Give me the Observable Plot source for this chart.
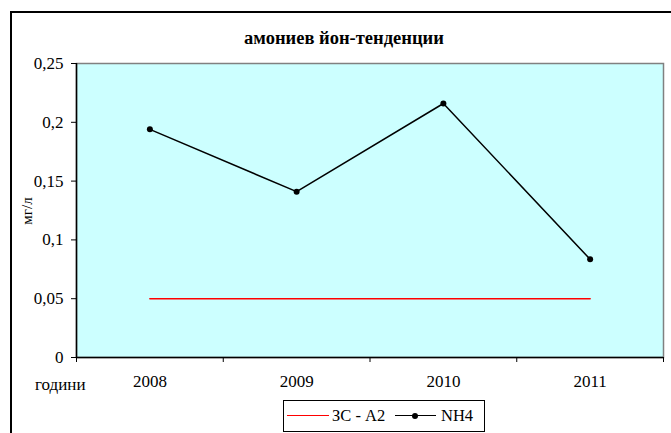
<!DOCTYPE html>
<html><head><meta charset="utf-8">
<script src="https://cdn.jsdelivr.net/npm/d3@7"></script>
<script src="https://cdn.jsdelivr.net/npm/@observablehq/plot@0.6"></script>
<style>
html,body{margin:0;padding:0;background:#fff;}
body{width:671px;height:433px;overflow:hidden;position:relative;font-family:'Liberation Serif';color:#000;}
#border{position:absolute;left:10px;top:11px;width:720px;height:460px;border-left:2px solid #000;border-top:2px solid #000;}
#chart{position:absolute;left:0;top:0;}
#chart svg, #chart svg text{font-family:'Liberation Serif' !important;}
.lbl{position:absolute;white-space:nowrap;line-height:1;font-family:'Liberation Serif';}
#title{left:344px;top:28.5px;transform:translateX(-50%);font-weight:bold;font-size:18.5px;}
#ylab{left:27px;top:211px;font-size:15px;transform:translate(-50%,-50%) rotate(-90deg);}
#xlab{left:35px;top:375.5px;font-size:17px;}
#legend{position:absolute;left:283px;top:400px;width:200px;height:30px;border:1px solid #000;background:#fff;}
.sw{position:absolute;height:0;}
.dot{position:absolute;width:6px;height:6px;border-radius:50%;background:#000;}
.lt{position:absolute;font-size:16.5px;line-height:1;white-space:nowrap;font-family:'Liberation Serif';}
</style>
</head><body>
<div id="border"></div>
<div id="chart"></div>
<div id="title" class="lbl"></div>
<div id="ylab" class="lbl"></div>
<div id="xlab" class="lbl"></div>
<div id="legend"></div>
<script>
const years = [2008, 2009, 2010, 2011];
const nh4 = [0.194, 0.141, 0.216, 0.0835];
const zsA2 = [0.05, 0.05, 0.05, 0.05];
const yTicks = [0, 0.05, 0.1, 0.15, 0.2, 0.25];
const seriesNames = ["ЗС - А2", "NH4"];
const seriesColors = ["#FF0000", "#000000"];
const titleText = "амониев йон-тенденции";
const yLabelText = "мг/л";
const xLabelText = "години";

const rows = years.map((y, i) => ({year: y, nh4: nh4[i], zs: zsA2[i]}));
const bounds = d3.range(years.length + 1).map(i => years[0] - 0.5 + i);

const chart = Plot.plot({
  width: 671, height: 433,
  marginLeft: 76, marginTop: 63, marginRight: 8, marginBottom: 76,
  style: {fontFamily: "'Liberation Serif'", fontSize: "17px", background: "transparent", color: "#000"},
  x: {type: "linear", domain: [bounds[0], bounds[bounds.length - 1]]},
  y: {domain: [yTicks[0], yTicks[yTicks.length - 1]]},
  marks: [
    Plot.frame({fill: "#CCFFFF", stroke: "#808080", strokeWidth: 1.5}),
    Plot.ruleY([yTicks[0]], {stroke: "#000", strokeWidth: 1.5}),
    Plot.ruleX([bounds[0]], {stroke: "#000", strokeWidth: 1.5}),
    Plot.axisY({ticks: yTicks, tickFormat: d => String(d).replace(".", ","), tickSize: 5, tickPadding: 8, label: null, fontSize: 17}),
    Plot.axisX({ticks: bounds, tickFormat: () => "", tickSize: 5, label: null}),
    Plot.axisX({ticks: years, tickFormat: d => String(d), tickSize: 0, tickPadding: 17, label: null, fontSize: 17}),
    Plot.lineY(rows, {x: "year", y: "zs", stroke: seriesColors[0], strokeWidth: 1.6}),
    Plot.lineY(rows, {x: "year", y: "nh4", stroke: seriesColors[1], strokeWidth: 1.5}),
    Plot.dot(rows, {x: "year", y: "nh4", fill: seriesColors[1], r: 3})
  ]
});
document.getElementById("chart").appendChild(chart);

document.getElementById("title").textContent = titleText;
document.getElementById("ylab").textContent = yLabelText;
document.getElementById("xlab").textContent = xLabelText;

const lg = document.getElementById("legend");
const s1 = document.createElement("div"); s1.className = "sw";
s1.style.cssText = "left:3px;top:14px;width:42px;border-top:1.5px solid " + seriesColors[0];
lg.appendChild(s1);
const t1 = document.createElement("div"); t1.className = "lt";
t1.style.cssText = "left:48px;top:6.5px"; t1.textContent = seriesNames[0];
lg.appendChild(t1);
const s2 = document.createElement("div"); s2.className = "sw";
s2.style.cssText = "left:111px;top:14px;width:41px;border-top:1.5px solid " + seriesColors[1];
lg.appendChild(s2);
const d2 = document.createElement("div"); d2.className = "dot";
d2.style.cssText = "left:128px;top:11.5px";
lg.appendChild(d2);
const t2 = document.createElement("div"); t2.className = "lt";
t2.style.cssText = "left:157px;top:6.5px"; t2.textContent = seriesNames[1];
lg.appendChild(t2);
</script>
</body></html>
